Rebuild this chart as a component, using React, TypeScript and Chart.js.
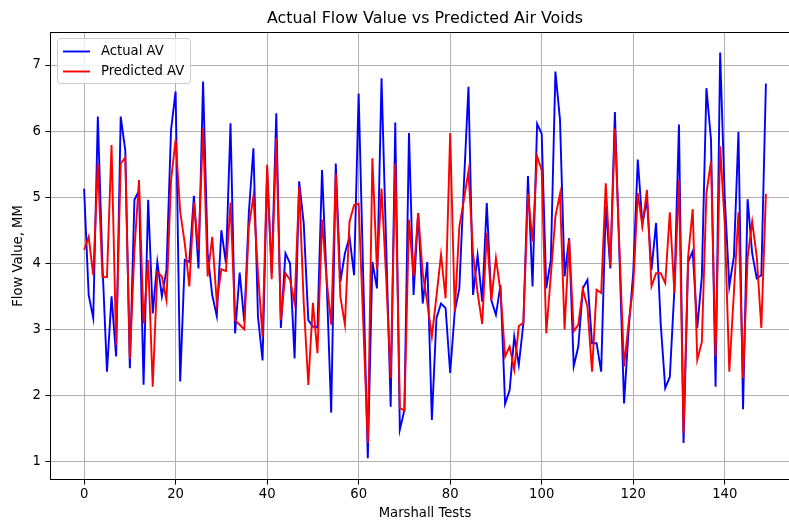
import { useEffect, useRef } from 'react';
import { Chart, registerables } from 'chart.js';

Chart.register(...registerables);

const testIndex: number[] = Array.from({ length: 150 }, (_, i) => i);

const actualAV: number[] = [
  5.13, 3.52, 3.17, 6.22, 4.0, 2.36, 3.5, 2.59, 6.22, 5.71,
  2.41, 4.96, 5.1, 2.16, 4.96, 3.24, 4.02, 3.5, 3.9, 6.02,
  6.6, 2.21, 4.05, 4.02, 5.02, 3.92, 6.75, 4.15, 3.52, 3.2,
  4.5, 4.0, 6.12, 2.94, 3.86, 3.12, 4.76, 5.74, 3.19, 2.53,
  5.4, 3.85, 6.27, 3.02, 4.15, 4.0, 2.56, 5.24, 4.6, 3.14,
  3.04, 3.03, 5.41, 3.75, 1.74, 5.51, 3.72, 4.15, 4.4, 3.82,
  6.57, 3.8, 1.05, 4.02, 3.62, 6.8, 4.3, 1.83, 6.13, 1.48,
  1.78, 5.97, 3.52, 4.76, 3.39, 4.02, 1.63, 3.17, 3.39, 3.32,
  2.34, 3.27, 3.62, 5.2, 6.67, 3.52, 4.12, 3.42, 4.91, 3.44,
  3.22, 3.67, 1.87, 2.08, 2.89, 2.46, 3.09, 5.32, 3.65, 6.11,
  5.96, 3.62, 4.05, 6.9, 6.17, 3.8, 4.38, 2.44, 2.74, 3.62,
  3.75, 2.79, 2.79, 2.36, 4.86, 3.92, 6.29, 4.1, 1.88, 3.0,
  3.85, 5.57, 4.6, 4.96, 3.9, 4.61, 3.09, 2.11, 2.28, 3.6,
  6.1, 1.28, 4.02, 4.18, 3.02, 3.8, 6.65, 5.87, 2.13, 7.19,
  5.0, 3.65, 4.1, 5.99, 1.79, 4.97, 4.15, 3.77, 3.82, 6.72,
];

const predictedAV: number[] = [
  4.2, 4.4, 3.82, 5.51, 3.79, 3.79, 5.79, 2.76, 5.51, 5.6,
  2.55, 4.2, 5.26, 3.09, 4.05, 2.13, 3.87, 3.8, 3.44, 5.26,
  5.87, 4.78, 4.3, 3.65, 4.92, 4.2, 6.04, 3.8, 4.4, 3.4,
  3.91, 3.88, 4.92, 3.14, 3.07, 3.0, 4.55, 5.01, 3.85, 2.89,
  5.49, 3.76, 5.89, 3.14, 3.85, 3.75, 3.4, 5.16, 3.4, 2.16,
  3.4, 2.64, 4.66, 3.75, 3.07, 5.36, 3.5, 3.07, 4.63, 4.88,
  4.9, 3.1, 1.28, 5.59, 3.9, 5.13, 3.8, 2.26, 5.51, 1.81,
  1.77, 4.66, 3.8, 4.76, 3.85, 3.4, 2.89, 3.5, 4.13, 3.47,
  5.97, 3.27, 4.55, 4.96, 5.39, 4.15, 3.55, 3.08, 4.46, 3.44,
  4.08, 3.57, 2.59, 2.74, 2.39, 3.05, 3.1, 5.05, 4.33, 5.62,
  5.41, 2.94, 3.82, 4.71, 5.05, 3.0, 4.36, 2.97, 3.07, 3.6,
  3.34, 2.36, 3.6, 3.55, 5.21, 3.95, 6.04, 4.2, 2.44, 3.1,
  3.65, 5.06, 4.56, 5.11, 3.65, 3.85, 3.85, 3.7, 4.77, 3.55,
  5.26, 1.43, 4.1, 4.82, 2.54, 2.81, 5.06, 5.54, 2.59, 5.77,
  4.6, 2.36, 3.55, 4.77, 2.26, 4.08, 4.63, 4.1, 3.02, 5.05,
];

const xTickValues: number[] = [0, 20, 40, 60, 80, 100, 120, 140];
const yTickValues: number[] = [1, 2, 3, 4, 5, 6, 7];
const seriesNames: string[] = ['Actual AV', 'Predicted AV'];
const seriesColors: string[] = ['#0000ff', '#ff0000'];
const chartTitle = 'Actual Flow Value vs Predicted Air Voids';
const xAxisLabel = 'Marshall Tests';
const yAxisLabel = 'Flow Value, MM';

const FONT = '"DejaVu Sans", "Liberation Sans", sans-serif';
const SMALL = 13.2;
const BIG = 15.9;

export default function App() {
  const ref = useRef<HTMLCanvasElement | null>(null);

  useEffect(() => {
    if (!ref.current) return;

    const decor = {
      id: 'decor',
      afterDraw(chart: any) {
        const { ctx, chartArea: a } = chart;
        ctx.save();
        // frame
        ctx.strokeStyle = '#000';
        ctx.lineWidth = 1;
        ctx.strokeRect(
          Math.round(a.left) + 0.5,
          Math.round(a.top) + 0.5,
          Math.round(a.right - a.left) - 1,
          Math.round(a.bottom - a.top) - 1
        );
        const cx = (a.left + a.right) / 2;
        ctx.fillStyle = '#000';
        ctx.textAlign = 'center';
        ctx.textBaseline = 'middle';
        ctx.font = `${BIG}px ${FONT}`;
        ctx.fillText(chartTitle, cx, 18.5);
        ctx.font = `${SMALL}px ${FONT}`;
        ctx.fillText(xAxisLabel, cx, 514);
        ctx.save();
        ctx.translate(19, (a.top + a.bottom) / 2);
        ctx.rotate(-Math.PI / 2);
        ctx.fillText(yAxisLabel, 0, 0);
        ctx.restore();

        // legend
        const lx = 57.5, ly = 38.5, lw = 133, lh = 45, r = 3;
        ctx.beginPath();
        ctx.moveTo(lx + r, ly);
        ctx.lineTo(lx + lw - r, ly);
        ctx.arcTo(lx + lw, ly, lx + lw, ly + r, r);
        ctx.lineTo(lx + lw, ly + lh - r);
        ctx.arcTo(lx + lw, ly + lh, lx + lw - r, ly + lh, r);
        ctx.lineTo(lx + r, ly + lh);
        ctx.arcTo(lx, ly + lh, lx, ly + lh - r, r);
        ctx.lineTo(lx, ly + r);
        ctx.arcTo(lx, ly, lx + r, ly, r);
        ctx.closePath();
        ctx.fillStyle = 'rgba(255,255,255,0.8)';
        ctx.fill();
        ctx.strokeStyle = '#cccccc';
        ctx.lineWidth = 1;
        ctx.stroke();
        ctx.textAlign = 'left';
        ctx.font = `${SMALL}px ${FONT}`;
        seriesNames.forEach((name, k) => {
          const yy = 51.5 + k * 20;
          ctx.strokeStyle = seriesColors[k];
          ctx.lineWidth = 1.9;
          ctx.beginPath();
          ctx.moveTo(63, yy);
          ctx.lineTo(90, yy);
          ctx.stroke();
          ctx.fillStyle = '#000';
          ctx.fillText(name, 101, yy);
        });
        ctx.restore();
      },
    };

    const gridOpts = {
      color: '#b0b0b0',
      lineWidth: 1,
      drawTicks: true,
      tickLength: 4.6,
      tickColor: '#000',
      tickWidth: 1,
    };

    const chart = new Chart(ref.current, {
      type: 'line',
      data: {
        datasets: [
          {
            label: seriesNames[0],
            data: testIndex.map((x, i) => ({ x, y: actualAV[i] })),
            borderColor: seriesColors[0],
            backgroundColor: seriesColors[0],
            borderWidth: 1.9,
            pointRadius: 0,
            tension: 0,
            fill: false,
            order: 2,
          },
          {
            label: seriesNames[1],
            data: testIndex.map((x, i) => ({ x, y: predictedAV[i] })),
            borderColor: seriesColors[1],
            backgroundColor: seriesColors[1],
            borderWidth: 1.9,
            pointRadius: 0,
            tension: 0,
            fill: false,
            order: 1,
          },
        ],
      },
      options: {
        responsive: false,
        devicePixelRatio: 1,
        animation: false,
        events: [],
        layout: { padding: { top: 32, right: 10, left: 0, bottom: 0 } },
        plugins: {
          legend: { display: false },
          tooltip: { enabled: false },
          title: { display: false },
        },
        scales: {
          x: {
            type: 'linear',
            min: -7.45,
            max: 156.45,
            afterBuildTicks: (axis: any) => {
              axis.ticks = xTickValues.map((v) => ({ value: v }));
            },
            afterFit: (axis: any) => {
              axis.height = 45;
            },
            grid: gridOpts,
            border: { display: false },
            ticks: {
              color: '#000',
              font: { family: FONT, size: SMALL },
              padding: 2.5,
              maxRotation: 0,
              autoSkip: false,
            },
          },
          y: {
            type: 'linear',
            min: 0.72,
            max: 7.5,
            afterBuildTicks: (axis: any) => {
              axis.ticks = yTickValues.map((v) => ({ value: v }));
            },
            afterFit: (axis: any) => {
              axis.width = 50;
            },
            grid: gridOpts,
            border: { display: false },
            ticks: {
              color: '#000',
              font: { family: FONT, size: SMALL },
              padding: 4.6,
              autoSkip: false,
            },
          },
        },
      },
      plugins: [decor],
    } as any);

    return () => chart.destroy();
  }, []);

  return (
    <div
      style={{
        position: 'fixed',
        left: 0,
        top: 0,
        width: 789,
        height: 525,
        overflow: 'hidden',
        background: '#fff',
      }}
    >
      <canvas ref={ref} width={810} height={525} style={{ display: 'block' }} />
    </div>
  );
}
